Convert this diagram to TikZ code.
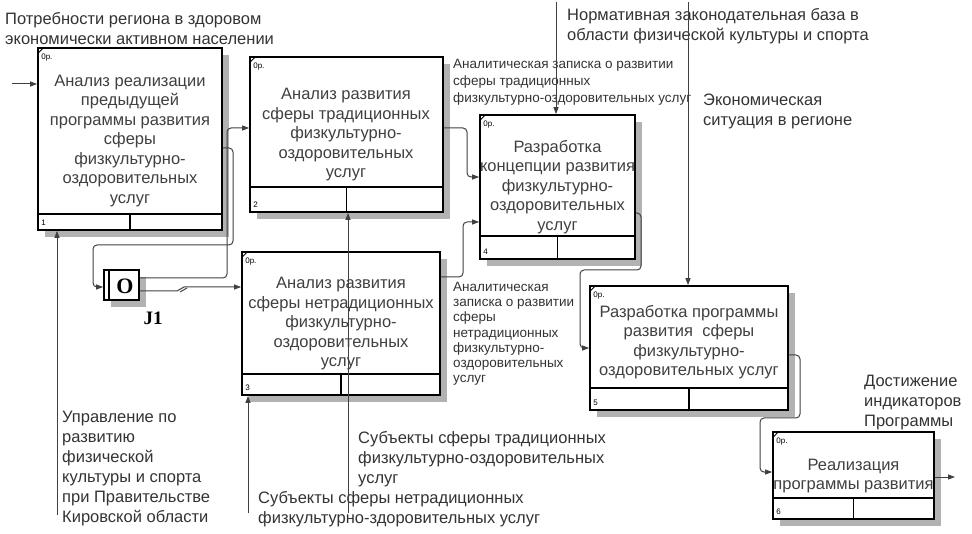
\documentclass[tikz,border=0pt]{standalone}
\usepackage{fontspec}
\setmainfont{Liberation Sans}
\newfontfamily\serifj{Liberation Serif}
\usetikzlibrary{arrows.meta, positioning, calc, shadows}

\begin{document}
\begin{tikzpicture}[
        x=1pt, y=-1pt,
        every node/.style={align=center, inner sep=0pt},
        fbox/.style={
            rectangle, draw=black, line width=1.7pt, fill=white,
            drop shadow={shadow xshift=7pt, shadow yshift=-7pt, fill=black!30, opacity=1}
        },
        btext/.style={font=\fontsize{16.5}{19.5}\selectfont, text=black!75},
        lbl/.style={font=\fontsize{16.5}{20}\selectfont, align=left, anchor=north west, text=black!80},
        slbl/.style={font=\fontsize{13.5}{16.8}\selectfont, align=left, anchor=north west, text=black!80},
        tag/.style={font=\fontsize{8}{8}\selectfont, anchor=west},
        arr/.style={-{Triangle[length=7pt,width=5pt]}, line width=1pt, black!75, rounded corners=4pt},
        lnk/.style={line width=1pt, black!75, rounded corners=4pt}
    ]
    \useasboundingbox (0,0) rectangle (972,534);

    % activity boxes
    \node[fbox, minimum width=184pt, minimum height=182pt] (b1) at (130,139) {};
    \node[fbox, minimum width=193pt, minimum height=155pt] (b2) at (346.5,134.5) {};
    \node[fbox, minimum width=198pt, minimum height=143pt] (b3) at (341,323.5) {};
    \node[fbox, minimum width=155pt, minimum height=144pt] (b4) at (557.5,187) {};
    \node[fbox, minimum width=198pt, minimum height=124pt] (b5) at (689,348) {};
    \node[fbox, minimum width=161pt, minimum height=87pt] (b6) at (853.5,475.5) {};

    \foreach \b/\s/\k in {b1/17pt/1, b2/26pt/2, b3/22pt/3, b4/24pt/4, b5/23pt/5, b6/22pt/6} {
        \draw[line width=1.7pt] ($(\b.south west)+(0,\s)$) -- ($(\b.south east)+(0,\s)$);
        \draw[line width=1.7pt] ($(\b.south)+(0,\s)$) -- (\b.south);
        \node[tag] at ($(\b.south west)+(4pt,8pt)$) {\k};
        \node[tag] at ($(\b.north west)+(4pt,-10pt)$) {0р.};
        \draw[line width=0.8pt] ($(\b.north west)+(1pt,-6pt)$) -- ++(6pt,6pt);
    }

    \node[btext] (t1) at (130,141) {Анализ реализации\\предыдущей\\программы развития\\сферы\\физкультурно-\\оздоровительных\\услуг};
    \node[btext] (t2) at (346,135) {Анализ развития\\сферы традиционных\\физкультурно-\\оздоровительных\\услуг};
    \node[btext] (t3) at (341,324) {Анализ развития\\сферы нетрадиционных\\физкультурно-\\оздоровительных\\услуг};
    \node[btext] (t4) at (557.5,187) {Разработка\\концепции развития\\физкультурно-\\оздоровительных\\услуг};
    \node[btext] (t5) at (689,342) {Разработка программы\\развития\ \ сферы\\физкультурно-\\оздоровительных услуг};
    \node[btext] (t6) at (853.5,476) {Реализация\\программы развития};

    % junction
    \node[fbox, minimum width=35pt, minimum height=30pt] (j1) at (121.5,285) {};
    \draw[line width=1.7pt] ($(j1.north west)+(6pt,0)$) -- ($(j1.south west)+(6pt,0)$);
    \node[font=\serifj\bfseries\fontsize{22}{22}\selectfont] (jo) at (125,286) {O};
    \node[font=\serifj\bfseries\fontsize{19}{19}\selectfont] (jname) at (153,318) {J1};

    % labels
    \node[lbl] (lin) at (5,12) {Потребности региона в здоровом\\экономически активном населении};
    \node[lbl] (lnorm) at (567,8) {Нормативная законодательная база в\\области физической культуры и спорта};
    \node[lbl] (leco) at (703,94) {Экономическая\\ситуация в регионе};
    \node[slbl] (la) at (453,59) {Аналитическая записка о развитии\\сферы традиционных\\физкультурно-оздоровительных услуг};
    \node[slbl, font=\fontsize{13.5}{15.2}\selectfont] (lb) at (453,282) {Аналитическая\\записка о развитии\\сферы\\нетрадиционных\\физкультурно-\\оздоровительных\\услуг};
    \node[lbl] (lgoal) at (864,375) {Достижение\\индикаторов\\Программы};
    \node[lbl] (lupr) at (62,411) {Управление по\\развитию\\физической\\культуры и спорта\\при Правительстве\\Кировской области};
    \node[lbl] (ltrad) at (358,431) {Субъекты сферы традиционных\\физкультурно-оздоровительных\\услуг};
    \node[lbl] (lnetr) at (258,491) {Субъекты сферы нетрадиционных\\физкультурно-здоровительных услуг};

    % free ends
    \coordinate (in1) at (12,84);
    \coordinate (c4) at (556,2);
    \coordinate (c5) at (688,2);
    \coordinate (m1) at (57,515);
    \coordinate (m2) at (348,513);
    \coordinate (m3) at (248,513);
    \coordinate (out6) at (955,477);

    % connectors
    \draw[arr] (in1) -- (b1.west |- in1);
    \draw[arr] (b1.east |- 0,148) -- (233,148) -- (233,245) -- (93,245) -- (93,287) -- (j1.west |- 0,287);
    \draw[arr] (j1.east |- 0,278) -- (227,278) -- (227,128) -- (b2.west |- 0,128);
    \draw[arr, rounded corners=0pt] (j1.east |- 0,291) -- (177,291) -- (184,287) -- (b3.west |- 0,287);
    \draw[lnk, rounded corners=0pt] (180,292) -- (187,288);
    \draw[arr] (b2.east |- 0,128) -- (467,128) -- (467,177) -- (b4.west |- 0,177);
    \draw[arr] (b3.east |- 0,277) -- (463,277) -- (463,222) -- (b4.west |- 0,222);
    \draw[arr] (b4.east |- 0,213) -- (641,213) -- (641,270) -- (580,270) -- (580,348) -- (b5.west |- 0,348);
    \draw[arr] (b5.east |- 0,355) -- (800,355) -- (800,418) -- (760,418) -- (760,472) -- (b6.west |- 0,472);
    \draw[arr] (b6.east |- out6) -- (out6);
    \draw[arr] (c4) -- (b4.north -| c4);
    \draw[arr] (c5) -- (b5.north -| c5);
    \draw[arr] (m1) -- (b1.south -| m1);
    \draw[arr] (m2) -- (b2.south -| m2);
    \draw[arr] (m3) -- (b3.south -| m3);
\end{tikzpicture}
\end{document}
